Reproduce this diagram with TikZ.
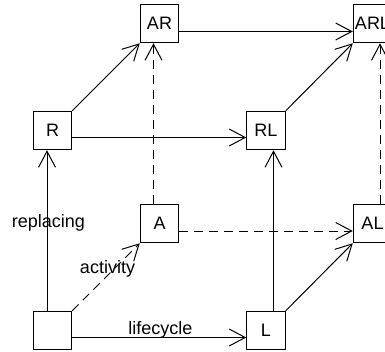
\documentclass[tikz,border=0pt]{standalone}
\usepackage{fontspec}
\setmainfont{Liberation Sans}
\usetikzlibrary{arrows.meta}
\begin{document}
\begin{tikzpicture}[x=1pt,y=-1pt,
  box/.style={draw,line width=1pt,minimum size=38.5pt,inner sep=0pt,font=\fontsize{18}{21}\selectfont},
  lbl/.style={font=\fontsize{18}{21}\selectfont,inner sep=0pt,anchor=base},
  conn/.style={line width=1pt,-{Straight Barb[length=16pt,width=17pt]}},
  dsh/.style={conn,dash pattern=on 9pt off 6pt}]
\useasboundingbox (0,0) rectangle (385,351);
\clip (0,0) rectangle (385,351);
\node[box] (AR)  at (159.5,23.5) {AR};
\node[box] (ARL) at (372.5,23.5) {ARL};
\node[box] (R)   at (52.5,130.5) {R};
\node[box] (RL)  at (266,130.5) {RL};
\node[box] (A)   at (159.5,223.5) {A};
\node[box] (AL)  at (372.5,223.5) {AL};
\node[box] (O)   at (52.5,330.5) {};
\node[box] (L)   at (266,330.5) {L};
% solid
\draw[conn] ([xshift=-5.5pt]O.north) -- ([xshift=-5.5pt]R.south);
\draw[conn] ([yshift=-7pt]O.east) -- ([yshift=-7pt]L.west);
\draw[conn] (R.north east) -- (AR.south west);
\draw[conn] ([yshift=-7pt]R.east) -- ([yshift=-7pt]RL.west);
\draw[conn] ([xshift=7.5pt]L.north) -- ([xshift=7.5pt]RL.south);
\draw[conn] (L.north east) -- (AL.south west);
\draw[conn] (RL.north east) -- (ARL.south west);
\draw[conn] ([yshift=-8pt]AR.east) -- ([yshift=-8pt]ARL.west);
% dashed
\draw[dsh] (O.north east) -- (A.south west);
\draw[dsh] ([xshift=-6pt]A.north) -- ([xshift=-6pt]AR.south);
\draw[dsh] ([yshift=-7.5pt]A.east) -- ([yshift=-7.5pt]AL.west);
\draw[dsh] ([xshift=7.5pt]AL.north) -- ([xshift=7.5pt]ARL.south);
% labels
\node[lbl] (lrep) at (48.5,227.5) {replacing};
\node[lbl] (lact) at (107.5,273.3) {activity};
\node[lbl] (llif) at (160.5,334) {lifecycle};
\end{tikzpicture}
\end{document}
